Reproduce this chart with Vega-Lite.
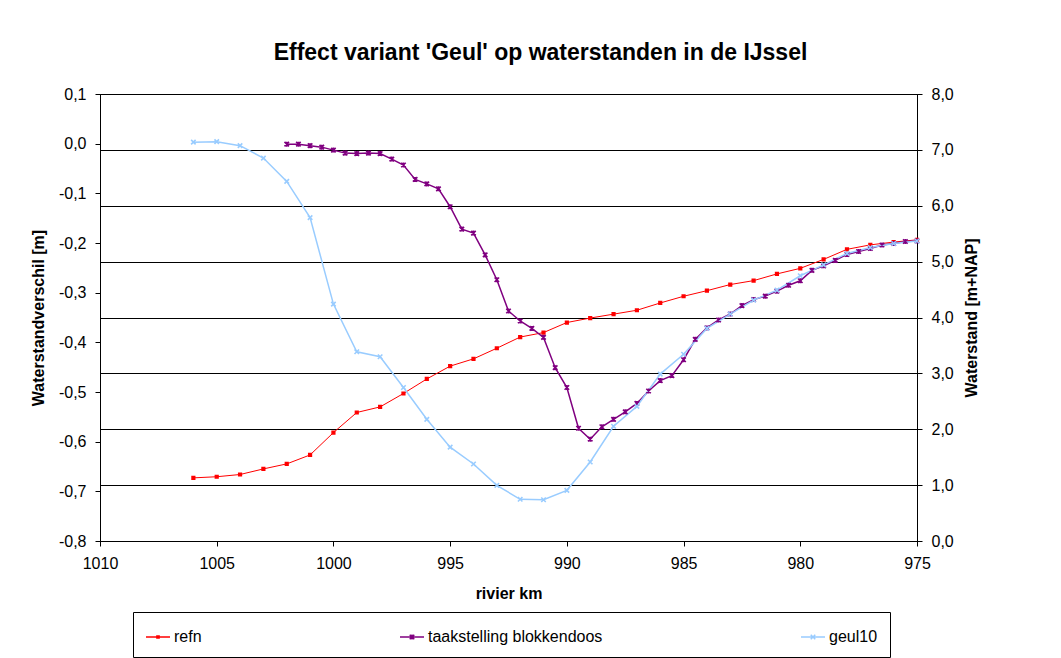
{
  "$schema": "https://vega.github.io/schema/vega-lite/v6.json",
  "autosize": {"type": "none"},
  "width": 817,
  "height": 447,
  "padding": {"left": 100, "top": 94, "right": 144, "bottom": 117},
  "background": "white",
  "title": {"text": "Effect variant 'Geul' op waterstanden in de IJssel", "font": "Liberation Sans", "fontSize": 23, "fontWeight": "bold", "color": "black", "anchor": "middle", "dx": 32, "offset": 3, "baseline": "alphabetic"},
  "datasets": {
    "d": [
      {"km": 1006, "series": "refn", "value": 1.13},
      {"km": 1005, "series": "refn", "value": 1.15},
      {"km": 1004, "series": "refn", "value": 1.19},
      {"km": 1003, "series": "refn", "value": 1.29},
      {"km": 1002, "series": "refn", "value": 1.38},
      {"km": 1001, "series": "refn", "value": 1.54},
      {"km": 1000, "series": "refn", "value": 1.94},
      {"km": 999, "series": "refn", "value": 2.30},
      {"km": 998, "series": "refn", "value": 2.40},
      {"km": 997, "series": "refn", "value": 2.64},
      {"km": 996, "series": "refn", "value": 2.90},
      {"km": 995, "series": "refn", "value": 3.13},
      {"km": 994, "series": "refn", "value": 3.26},
      {"km": 993, "series": "refn", "value": 3.45},
      {"km": 992, "series": "refn", "value": 3.65},
      {"km": 991, "series": "refn", "value": 3.73},
      {"km": 990, "series": "refn", "value": 3.91},
      {"km": 989, "series": "refn", "value": 3.99},
      {"km": 988, "series": "refn", "value": 4.06},
      {"km": 987, "series": "refn", "value": 4.13},
      {"km": 986, "series": "refn", "value": 4.26},
      {"km": 985, "series": "refn", "value": 4.38},
      {"km": 984, "series": "refn", "value": 4.48},
      {"km": 983, "series": "refn", "value": 4.59},
      {"km": 982, "series": "refn", "value": 4.66},
      {"km": 981, "series": "refn", "value": 4.78},
      {"km": 980, "series": "refn", "value": 4.88},
      {"km": 979, "series": "refn", "value": 5.04},
      {"km": 978, "series": "refn", "value": 5.22},
      {"km": 977, "series": "refn", "value": 5.30},
      {"km": 976, "series": "refn", "value": 5.35},
      {"km": 975, "series": "refn", "value": 5.39},
      {"km": 1002, "series": "taakstelling blokkendoos", "value": -0.001},
      {"km": 1001.5, "series": "taakstelling blokkendoos", "value": -0.001},
      {"km": 1001, "series": "taakstelling blokkendoos", "value": -0.004},
      {"km": 1000.5, "series": "taakstelling blokkendoos", "value": -0.007},
      {"km": 1000, "series": "taakstelling blokkendoos", "value": -0.013},
      {"km": 999.5, "series": "taakstelling blokkendoos", "value": -0.019},
      {"km": 999, "series": "taakstelling blokkendoos", "value": -0.020},
      {"km": 998.5, "series": "taakstelling blokkendoos", "value": -0.019},
      {"km": 998, "series": "taakstelling blokkendoos", "value": -0.020},
      {"km": 997.5, "series": "taakstelling blokkendoos", "value": -0.031},
      {"km": 997, "series": "taakstelling blokkendoos", "value": -0.043},
      {"km": 996.5, "series": "taakstelling blokkendoos", "value": -0.072},
      {"km": 996, "series": "taakstelling blokkendoos", "value": -0.081},
      {"km": 995.5, "series": "taakstelling blokkendoos", "value": -0.091},
      {"km": 995, "series": "taakstelling blokkendoos", "value": -0.127},
      {"km": 994.5, "series": "taakstelling blokkendoos", "value": -0.172},
      {"km": 994, "series": "taakstelling blokkendoos", "value": -0.180},
      {"km": 993.5, "series": "taakstelling blokkendoos", "value": -0.224},
      {"km": 993, "series": "taakstelling blokkendoos", "value": -0.274},
      {"km": 992.5, "series": "taakstelling blokkendoos", "value": -0.337},
      {"km": 992, "series": "taakstelling blokkendoos", "value": -0.357},
      {"km": 991.5, "series": "taakstelling blokkendoos", "value": -0.372},
      {"km": 991, "series": "taakstelling blokkendoos", "value": -0.390},
      {"km": 990.5, "series": "taakstelling blokkendoos", "value": -0.451},
      {"km": 990, "series": "taakstelling blokkendoos", "value": -0.491},
      {"km": 989.5, "series": "taakstelling blokkendoos", "value": -0.573},
      {"km": 989, "series": "taakstelling blokkendoos", "value": -0.595},
      {"km": 988.5, "series": "taakstelling blokkendoos", "value": -0.570},
      {"km": 988, "series": "taakstelling blokkendoos", "value": -0.555},
      {"km": 987.5, "series": "taakstelling blokkendoos", "value": -0.540},
      {"km": 987, "series": "taakstelling blokkendoos", "value": -0.523},
      {"km": 986.5, "series": "taakstelling blokkendoos", "value": -0.498},
      {"km": 986, "series": "taakstelling blokkendoos", "value": -0.477},
      {"km": 985.5, "series": "taakstelling blokkendoos", "value": -0.467},
      {"km": 985, "series": "taakstelling blokkendoos", "value": -0.435},
      {"km": 984.5, "series": "taakstelling blokkendoos", "value": -0.394},
      {"km": 984, "series": "taakstelling blokkendoos", "value": -0.371},
      {"km": 983.5, "series": "taakstelling blokkendoos", "value": -0.355},
      {"km": 983, "series": "taakstelling blokkendoos", "value": -0.343},
      {"km": 982.5, "series": "taakstelling blokkendoos", "value": -0.326},
      {"km": 982, "series": "taakstelling blokkendoos", "value": -0.314},
      {"km": 981.5, "series": "taakstelling blokkendoos", "value": -0.307},
      {"km": 981, "series": "taakstelling blokkendoos", "value": -0.297},
      {"km": 980.5, "series": "taakstelling blokkendoos", "value": -0.285},
      {"km": 980, "series": "taakstelling blokkendoos", "value": -0.276},
      {"km": 979.5, "series": "taakstelling blokkendoos", "value": -0.255},
      {"km": 979, "series": "taakstelling blokkendoos", "value": -0.246},
      {"km": 978.5, "series": "taakstelling blokkendoos", "value": -0.235},
      {"km": 978, "series": "taakstelling blokkendoos", "value": -0.223},
      {"km": 977.5, "series": "taakstelling blokkendoos", "value": -0.217},
      {"km": 977, "series": "taakstelling blokkendoos", "value": -0.211},
      {"km": 976.5, "series": "taakstelling blokkendoos", "value": -0.204},
      {"km": 976, "series": "taakstelling blokkendoos", "value": -0.201},
      {"km": 975.5, "series": "taakstelling blokkendoos", "value": -0.197},
      {"km": 975, "series": "taakstelling blokkendoos", "value": -0.196},
      {"km": 1006, "series": "geul10", "value": 0.003},
      {"km": 1005, "series": "geul10", "value": 0.004},
      {"km": 1004, "series": "geul10", "value": -0.004},
      {"km": 1003, "series": "geul10", "value": -0.029},
      {"km": 1002, "series": "geul10", "value": -0.076},
      {"km": 1001, "series": "geul10", "value": -0.149},
      {"km": 1000, "series": "geul10", "value": -0.323},
      {"km": 999, "series": "geul10", "value": -0.419},
      {"km": 998, "series": "geul10", "value": -0.429},
      {"km": 997, "series": "geul10", "value": -0.491},
      {"km": 996, "series": "geul10", "value": -0.555},
      {"km": 995, "series": "geul10", "value": -0.611},
      {"km": 994, "series": "geul10", "value": -0.645},
      {"km": 993, "series": "geul10", "value": -0.688},
      {"km": 992, "series": "geul10", "value": -0.716},
      {"km": 991, "series": "geul10", "value": -0.717},
      {"km": 990, "series": "geul10", "value": -0.698},
      {"km": 989, "series": "geul10", "value": -0.641},
      {"km": 988, "series": "geul10", "value": -0.569},
      {"km": 987, "series": "geul10", "value": -0.529},
      {"km": 986, "series": "geul10", "value": -0.464},
      {"km": 985, "series": "geul10", "value": -0.424},
      {"km": 984, "series": "geul10", "value": -0.372},
      {"km": 983, "series": "geul10", "value": -0.343},
      {"km": 982, "series": "geul10", "value": -0.315},
      {"km": 981, "series": "geul10", "value": -0.295},
      {"km": 980, "series": "geul10", "value": -0.266},
      {"km": 979, "series": "geul10", "value": -0.244},
      {"km": 978, "series": "geul10", "value": -0.221},
      {"km": 977, "series": "geul10", "value": -0.209},
      {"km": 976, "series": "geul10", "value": -0.201},
      {"km": 975, "series": "geul10", "value": -0.196}
    ]
  },
  "data": {"name": "d"},
  "layer": [
    {
      "transform": [{"filter": "datum.series == 'refn'"}],
      "encoding": {
        "x": {"field": "km", "type": "quantitative", "scale": {"domain": [975, 1010], "reverse": true, "nice": false, "zero": false},
              "axis": {"values": [1010, 1005, 1000, 995, 990, 985, 980, 975], "format": "d", "grid": false, "title": "rivier km", "labelPadding": 9, "titlePadding": 14, "labelFlush": false, "labelOverlap": false}},
        "y": {"field": "value", "type": "quantitative", "scale": {"domain": [0, 8], "nice": false, "zero": false},
              "axis": {"orient": "right", "values": [0, 1, 2, 3, 4, 5, 6, 7, 8], "format": ".1f", "grid": true, "title": "Waterstand [m+NAP]", "titleAngle": 270, "labelPadding": 9, "titlePadding": 26, "labelFlush": false, "labelOverlap": false}},
        "stroke": {"field": "series", "type": "nominal", "scale": {"domain": ["refn", "taakstelling blokkendoos", "geul10"], "range": ["#FF0000", "#800080", "#99CCFF"]}, "legend": null}
      },
      "layer": [
        {"mark": {"type": "line", "strokeWidth": 1}},
        {"mark": {"type": "point", "shape": "M-0.22,-0.22H0.22V0.22H-0.22Z", "filled": false, "fill": "black", "size": 100, "strokeWidth": 2, "opacity": 1}}
      ]
    },
    {
      "transform": [{"filter": "datum.series != 'refn'"}],
      "encoding": {
        "x": {"field": "km", "type": "quantitative"},
        "y": {"field": "value", "type": "quantitative", "scale": {"domain": [-0.8, 0.1], "nice": false, "zero": false},
              "axis": {"orient": "left", "values": [-0.8, -0.7, -0.6, -0.5, -0.4, -0.3, -0.2, -0.1, 0, 0.1], "format": ".1f", "grid": false, "title": "Waterstandverschil [m]", "labelPadding": 9, "titlePadding": 12, "labelFlush": false, "labelOverlap": false}},
        "stroke": {"field": "series", "type": "nominal", "legend": null}
      },
      "layer": [
        {"mark": {"type": "line", "strokeWidth": 1.5}},
        {"transform": [{"filter": "datum.series == 'taakstelling blokkendoos'"}],
         "mark": {"type": "point", "shape": "M-0.45,-0.45L0.45,0.45M-0.45,0.45L0.45,-0.45M0,-0.5L0,0.5", "filled": false, "size": 100, "strokeWidth": 1.6, "opacity": 1}},
        {"transform": [{"filter": "datum.series == 'geul10'"}],
         "mark": {"type": "point", "shape": "M-0.45,-0.45L0.45,0.45M-0.45,0.45L0.45,-0.45", "filled": false, "size": 100, "strokeWidth": 1.6, "opacity": 1}}
      ]
    },
    {
      "transform": [{"filter": "datum.km > 5000"}],
      "mark": {"type": "point", "filled": false, "fill": "black", "size": 576, "strokeWidth": 1.5, "opacity": 1},
      "encoding": {
        "color": {"field": "series", "type": "nominal", "scale": {"domain": ["refn", "taakstelling blokkendoos", "geul10"], "range": ["#FF0000", "#800080", "#99CCFF"]},
                  "legend": {"title": null, "orient": "none", "legendX": 33, "legendY": 518, "direction": "horizontal", "columnPadding": 195, "padding": 12, "strokeColor": "black", "fillColor": "white", "symbolSize": 576, "symbolStrokeWidth": 1.5, "labelFont": "Liberation Sans", "labelFontSize": 16, "labelColor": "black", "labelOffset": 3, "labelLimit": 400}},
        "shape": {"field": "series", "type": "nominal", "scale": {"domain": ["refn", "taakstelling blokkendoos", "geul10"], "range": ["M-1,0H1M-0.09,-0.09H0.09V0.09H-0.09Z", "M-1,0H1M-0.19,-0.19L0.19,0.19M-0.19,0.19L0.19,-0.19M0,-0.21L0,0.21", "M-1,0H1M-0.19,-0.19L0.19,0.19M-0.19,0.19L0.19,-0.19"]},
                  "legend": {"title": null, "orient": "none", "legendX": 33, "legendY": 518, "direction": "horizontal", "columnPadding": 195, "padding": 12, "strokeColor": "black", "fillColor": "white", "symbolSize": 576, "symbolStrokeWidth": 1.5, "labelFont": "Liberation Sans", "labelFontSize": 16, "labelColor": "black", "labelOffset": 3, "labelLimit": 400}}
      }
    }
  ],
  "resolve": {"scale": {"y": "independent", "shape": "independent", "color": "independent"}},
  "config": {
    "locale": {"number": {"decimal": ",", "thousands": ".", "grouping": [3], "currency": ["€", ""], "minus": "-"}},
    "view": {"stroke": "black", "strokeWidth": 1},
    "axis": {"labelFont": "Liberation Sans", "labelFontSize": 16, "labelColor": "black", "titleFont": "Liberation Sans", "titleFontSize": 16, "titleFontWeight": "bold", "titleColor": "black", "domainColor": "black", "tickColor": "black", "tickSize": 5, "gridColor": "black", "gridOpacity": 1, "gridWidth": 1}
  }
}
